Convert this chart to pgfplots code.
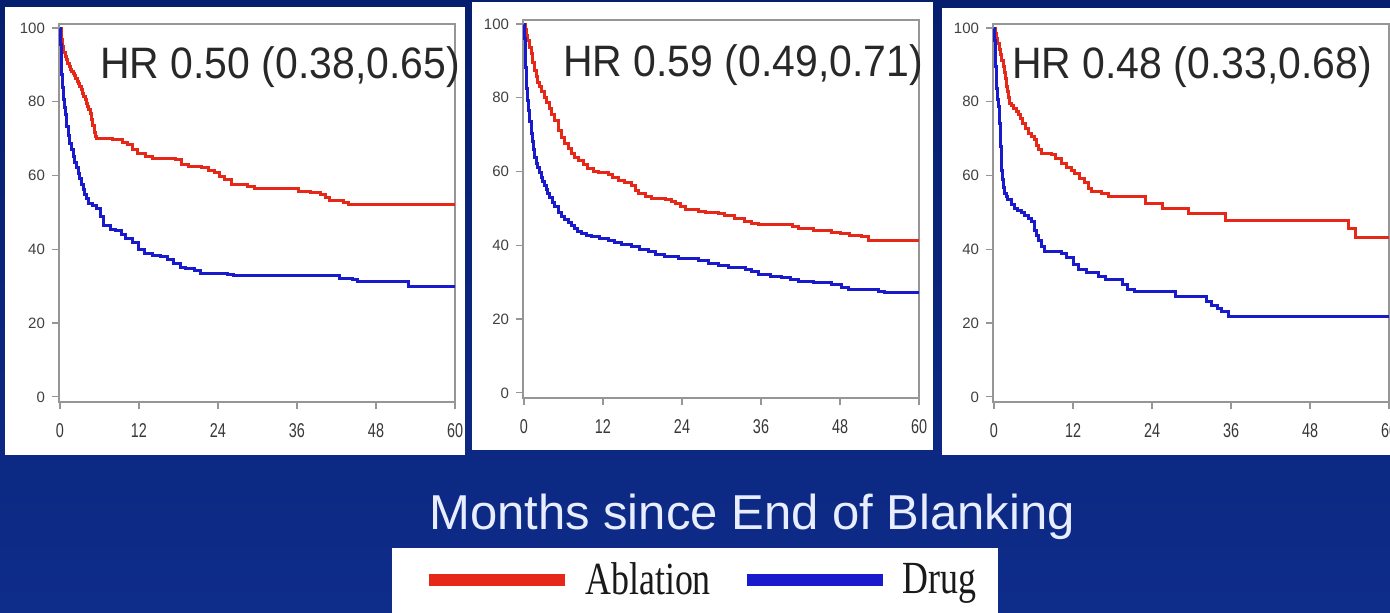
\documentclass[border=0pt]{standalone}
\usepackage{fontspec}
\setmainfont{Liberation Sans}
\newfontfamily\xtickfont[FakeStretch=0.72]{Liberation Sans}
\newfontfamily\hrfont[FakeStretch=0.93]{Liberation Sans}
\newfontfamily\legfont[FakeStretch=0.78]{Liberation Serif}
\usepackage{pgfplots}
\pgfplotsset{compat=1.18}

\definecolor{bgtop}{RGB}{6,30,110}
\definecolor{bgbot}{RGB}{14,44,138}
\definecolor{kmred}{RGB}{230,40,24}
\definecolor{kmblue}{RGB}{26,26,205}
\definecolor{framegray}{RGB}{150,150,150}
\definecolor{hrgray}{RGB}{40,40,40}

\pgfplotsset{
  kmaxis/.style={
    scale only axis, width=198pt, height=189pt,
    xmin=-0.15, xmax=60, ymin=-1.4, ymax=101.1,
    xtick={0,12,24,36,48,60}, ytick={0,20,40,60,80,100},
    axis line style={framegray, line width=0.6pt},
    tick style={framegray, line width=0.6pt},
    major tick length=3.5pt,
    tick align=outside, tick pos=left,
    /pgf/number format/assume math mode=true,
    xticklabel style={font=\xtickfont\fontsize{10}{11}\selectfont, text=black!78, yshift=-3.5pt},
    yticklabel style={font=\fontsize{7.5}{8}\selectfont, text=black!75},
    const plot,
    every axis plot/.append style={line width=1.5pt},
  },
}

\begin{document}
\begin{tikzpicture}[x=0.5pt,y=0.5pt]
\useasboundingbox (0,0) rectangle (1390,612);
\shade[top color=bgtop, bottom color=bgbot] (0,0) rectangle (1390,612);
% white panels
\fill[white] (5,157) rectangle (465,605);
\fill[white] (472,162) rectangle (933,610);
\fill[white] (942,157) rectangle (1400,604);
% legend box
\fill[white] (392,-10) rectangle (998,64);

% ---- panel 1
\begin{axis}[kmaxis, at={(29.5pt,105pt)}, anchor=south west]
\addplot[kmred] coordinates {
(0,100) (0.2,97) (0.4,95) (0.6,93.5) (0.8,92.3) (1,91.4) (1.2,90.5) (1.4,89.6)
(1.6,88.8) (1.8,88.2) (2,87.6) (2.2,87) (2.4,86.3) (2.6,85.6) (2.8,85) (3,84.2)
(3.2,83.3) (3.4,82.3) (3.6,81.4) (3.8,80.5) (4,79.6) (4.2,78.7) (4.4,77.8)
(4.6,76.9) (4.8,75.3) (5,73.5) (5.2,71.8) (5.4,70.6) (5.6,70.1) (8,69.8)
(9.5,69) (10.3,68.5) (11,67) (11.8,66) (13,65.3) (14,64.6) (17.5,64.3) (18.5,63)
(19.5,62.5) (21.5,62.2) (22.5,61.5) (23.5,60.8) (24.3,59.8) (25,58.8) (26,57.5)
(28.5,57) (29.5,56.6) (35.5,56.6) (36.3,55.7) (38,55.3) (39.5,55) (40.3,54)
(41,53.3) (43,52.8) (43.8,52.2) (60,52.2)
};
\addplot[kmblue] coordinates {
(0,100) (0.1,95.5) (0.2,91.5) (0.3,87.5) (0.4,84) (0.5,80.5) (0.65,78.5)
(0.8,76.5) (1,73.3) (1.25,71) (1.5,68.8) (1.75,67) (2,65.2) (2.25,63.6)
(2.5,62.2) (2.8,60.6) (3,59.3) (3.25,57.7) (3.5,56.1) (3.75,54.9) (4,53.7)
(4.3,52.5) (5,52) (5.6,51.1) (6.1,49) (6.6,46.5) (7.6,45.3) (8.5,45) (9.3,44)
(10,43) (11,41.8) (12,40) (12.8,39) (14,38.4) (15.2,38) (16.3,37.3) (17.2,36.2)
(18.3,35.2) (19,34.8) (20.5,34.3) (21.3,33.5) (25.5,33.3) (26.3,32.8)
(41.5,32.8) (42.5,32.2) (44.5,31.7) (45.2,31.2) (52.2,31.2) (52.9,30) (60,30)
};
\end{axis}

% ---- panel 2
\begin{axis}[kmaxis, at={(261.5pt,107pt)}, anchor=south west,
  legend columns=2,
  legend style={at={(axis description cs:0.452,-0.481)}, anchor=center,
    draw=none, fill=none, font=\legfont\fontsize{23}{25}\selectfont,
    text=black!90,
    /tikz/every odd column/.append style={column sep=5pt},
    /tikz/every even column/.append style={column sep=13pt}},
  legend image code/.code={\draw[#1, line width=6pt] (0pt,0pt) -- (68pt,0pt);},
]
\addplot[kmred] coordinates {
(0,100) (0.2,98.5) (0.4,97) (0.6,95.5) (0.85,93.7) (1.1,91.9) (1.35,89.6)
(1.6,87.4) (1.85,85.8) (2.1,84.2) (2.4,83) (2.7,81.8) (3.1,80.1) (3.4,78.8)
(3.8,77.2) (4.2,75.6) (4.6,73.8) (5.2,71.1) (5.7,69.3) (6.2,67.5) (6.7,66.3)
(7.2,65) (7.7,63.9) (8.3,62.9) (9,61.8) (9.7,60.7) (10.5,60) (11.3,59.8)
(12.8,59.2) (13.5,58.3) (14.3,57.6) (15.3,57) (16.3,56.3) (16.9,55) (17.4,54)
(18.5,53.3) (19.3,52.6) (21.5,52.4) (22.4,52) (23,51.4) (23.8,50.5) (24.5,49.8)
(26.5,49.3) (27.5,49) (29.5,48.5) (30.5,48) (32,47.2) (33.5,46.5) (34.5,46)
(35.6,45.7) (40.3,45.7) (40.8,45) (41.7,44.5) (44,44) (46.7,43.6) (48,43.2)
(49.5,42.8) (51.3,42.5) (52.3,41.3) (60,41.3)
};
\addlegendentry{Ablation}
\addplot[kmblue] coordinates {
(0,100) (0.08,96) (0.16,92) (0.25,88.3) (0.35,85.5) (0.45,82.5) (0.6,79.2)
(0.75,76.5) (0.9,73.5) (1.1,70.2) (1.25,68.2) (1.4,66) (1.6,63.9) (1.85,62.3)
(2.1,61) (2.35,59.7) (2.6,58.5) (2.85,57.3) (3.1,56.2) (3.35,55.1) (3.6,54)
(3.9,53) (4.3,51.7) (4.7,50.4) (5.2,49) (5.7,47.7) (6.2,46.9) (6.7,46.1)
(7.2,45.4) (7.7,44.6) (8.2,43.8) (8.7,43.1) (9.5,42.6) (10.2,42.3) (11.5,41.9)
(12.8,41.4) (13.8,40.8) (14.8,40.2) (16.3,39.8) (17.5,39) (18.9,38.2) (20,37.6)
(21.4,37.1) (23.4,36.3) (26.5,35.8) (28,35.1) (29.5,34.4) (31,34) (33.6,33.5)
(34.6,32.8) (35.6,32.1) (37.5,31.6) (39.1,31.2) (40.5,30.6) (41.7,30.3) (44,29.8)
(46.7,29.4) (48.3,28.6) (49.3,28) (53.8,27.6) (54.8,27.1) (60,27.1)
};
\addlegendentry{Drug}
\end{axis}

% ---- panel 3
\begin{axis}[kmaxis, at={(496.5pt,105pt)}, anchor=south west]
\addplot[kmred] coordinates {
(0,100) (0.2,98.5) (0.4,97.2) (0.6,95.9) (0.8,94.3) (1,92.7) (1.2,91.2)
(1.4,89.6) (1.55,88) (1.7,86.3) (1.9,84.2) (2.05,82.8) (2.2,81.3) (2.4,79.6)
(2.7,79) (3,78.3) (3.4,77.4) (3.7,76.5) (4,75.5) (4.4,74.2) (4.8,72.8) (5.2,71.5)
(5.7,70.6) (6.2,69.7) (6.5,68.2) (6.7,67) (7.2,66.1) (8.7,65.6) (9.3,64.6)
(10.3,63.3) (11,62.3) (11.7,61.5) (12.3,60.6) (13,59.3) (13.8,58) (14.3,56.6)
(14.8,55.6) (16.4,55.2) (17.4,54.3) (22.4,54.3) (23,52.3) (25.1,52.3) (25.6,51.1)
(29.2,51.1) (29.6,49.8) (34.6,49.8) (35.1,47.8) (53.4,47.8) (53.9,45.7)
(54.9,43.3) (60,43.3)
};
\addplot[kmblue] coordinates {
(0,100) (0.08,96.5) (0.16,93) (0.25,89.6) (0.33,86.5) (0.42,83.5) (0.5,80.5)
(0.63,78.7) (0.76,76.9) (0.86,74.2) (0.96,71.5) (1.03,68) (1.1,64.3)
(1.18,61.5) (1.27,58.8) (1.45,56.8) (1.6,55.2) (1.85,54.3) (2.1,53.4) (2.6,52.2)
(3.1,51.1) (3.6,50.5) (4.2,49.9) (4.7,49.3) (5.2,48.4) (5.7,47.5) (6.2,45.2)
(6.45,43.8) (6.7,42.5) (7.2,40.7) (7.7,39.4) (10.3,39) (11,37.7) (12,36)
(12.8,34.4) (14,33.8) (15.8,32.6) (17,31.7) (18.9,31.7) (19.5,30.5) (20.3,29.2)
(21.4,28.5) (26.5,28.5) (27.5,27.1) (31.6,27.1) (32.3,25.8) (33.1,24.9) (34,23.9)
(34.6,23.1) (35.6,21.7) (60,21.7)
};
\end{axis}

% hazard ratio labels
\node[anchor=west, inner sep=0, text=hrgray, font=\hrfont\fontsize{22}{24}\selectfont] at (100,545) {HR 0.50 (0.38,0.65)};
\node[anchor=west, inner sep=0, text=hrgray, font=\hrfont\fontsize{22}{24}\selectfont] at (563,547) {HR 0.59 (0.49,0.71)};
\node[anchor=west, inner sep=0, text=hrgray, font=\hrfont\fontsize{22}{24}\selectfont] at (1012,545) {HR 0.48 (0.33,0.68)};

% common x label
\node[text={rgb,255:red,232;green,238;blue,255}, font=\fontsize{24.5}{27}\selectfont] at (752,95) {Months since End of Blanking};
\end{tikzpicture}
\end{document}
